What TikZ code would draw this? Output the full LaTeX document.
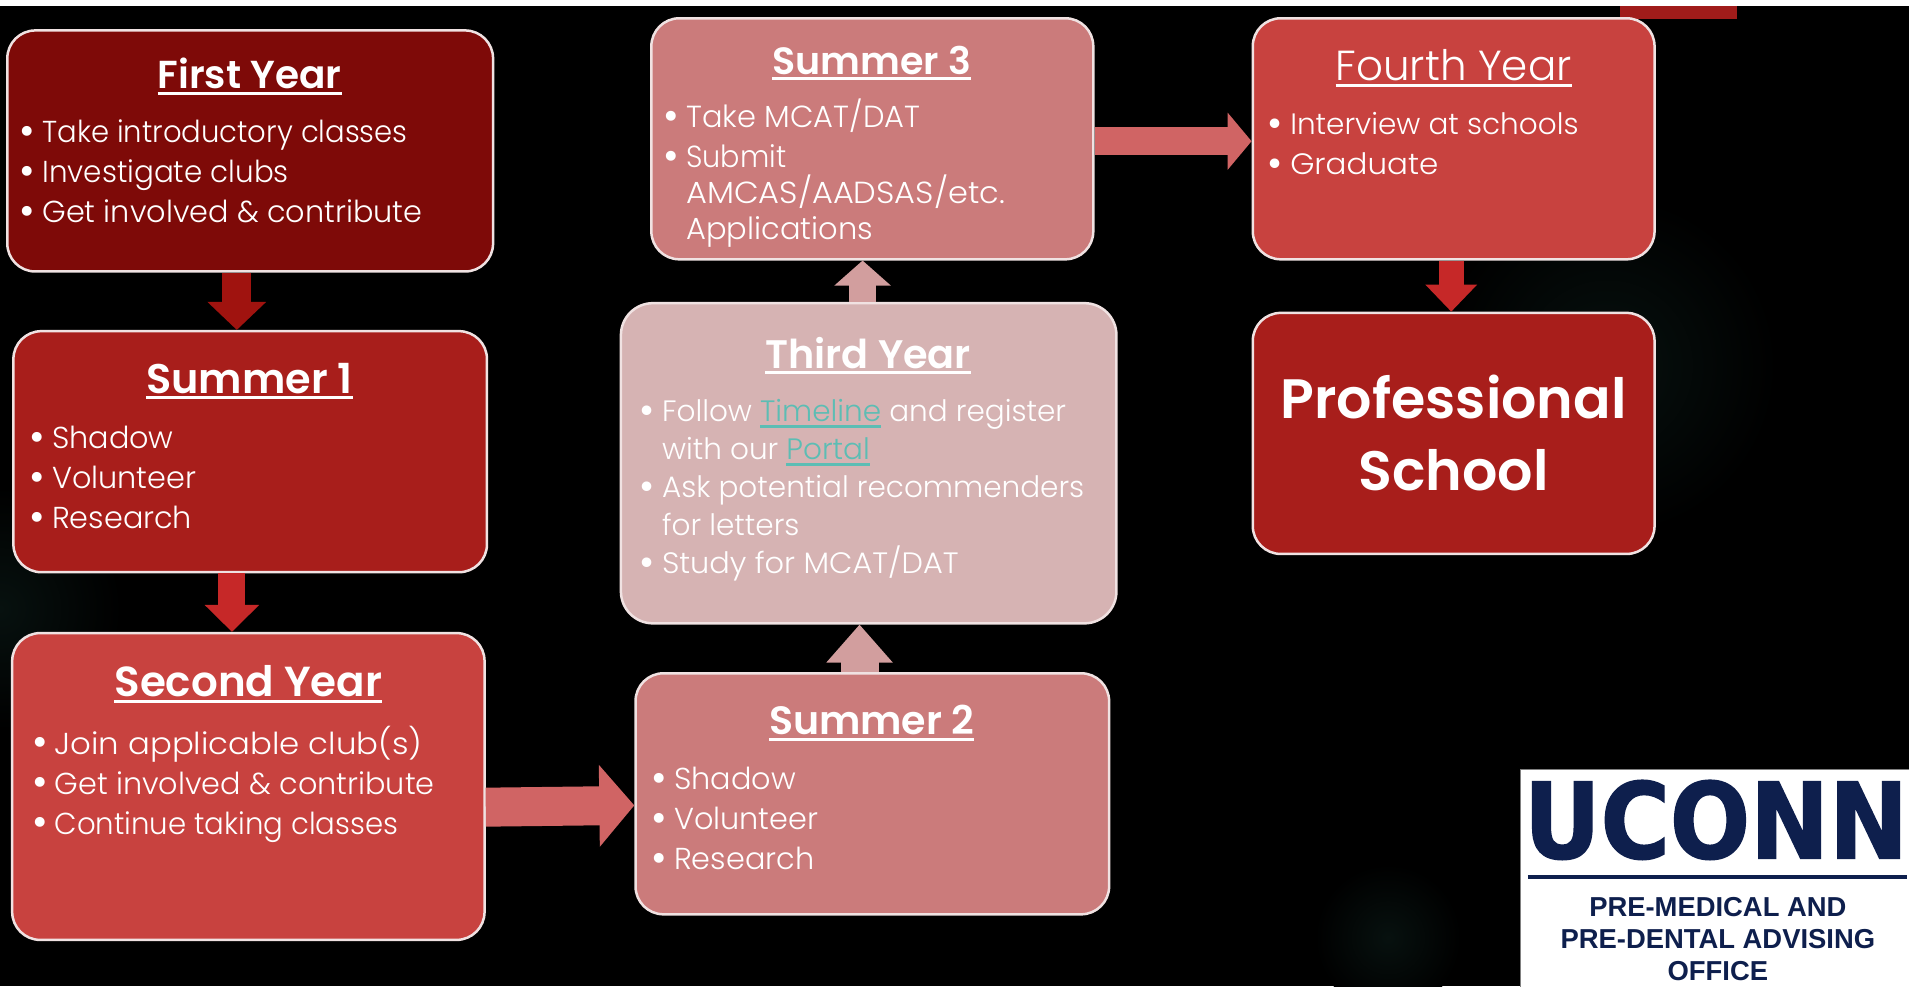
\documentclass[tikz,border=0pt]{standalone}
\usepackage{fontspec}
\usepackage{graphicx}
\usetikzlibrary{fit,calc,arrows.meta}
\setmainfont{Poppins}[UprightFont=* Light,BoldFont=* SemiBold]
\newfontfamily\logofont{Liberation Sans}
\newfontfamily\ucfont{DejaVu Sans}[BoldFeatures={FakeBold=1.5}]
\definecolor{cA}{HTML}{7E0A08}
\definecolor{cB}{HTML}{A81E1B}
\definecolor{cC}{HTML}{C8423F}
\definecolor{cD}{HTML}{CB7B7B}
\definecolor{cE}{HTML}{D6B3B3}
\definecolor{edgec}{HTML}{F0E2E2}
\definecolor{linkc}{HTML}{5CBDB4}
\definecolor{navy}{HTML}{0E1F4D}
\definecolor{glowc}{HTML}{07110F}
\definecolor{arA}{HTML}{A0130F}
\definecolor{arB}{HTML}{C62828}
\definecolor{arC}{HTML}{D06464}
\definecolor{arD}{HTML}{D29E9E}
\newcommand\ulin[2][white]{\setbox0\hbox{#2}\rlap{\color{#1}\rule[-6pt]{\wd0}{3pt}}\box0}
\newcommand\bi{\makebox[19pt][l]{\hspace*{-3.5pt}\raisebox{-2.8pt}{\scalebox{1.4}{•}}}}
\newcommand\ci{\hspace*{19pt}}
\newcommand\tsz[1]{\fontsize{#1}{44}\selectfont}
\newcommand\hs[2]{\scalebox{#1}[1]{#2}}
\tikzset{
 x=1.2175pt,y=-1.2175pt,
 panel/.style={draw=edgec,line width=2.5pt,rounded corners=28pt,inner sep=0pt,outer sep=0pt},
 head/.style={text=white,font=\fontsize{39}{44}\selectfont\bfseries,inner sep=0pt},
 body/.style={text=white,align=left,anchor=north west,inner sep=0pt,font=\fontsize{30.3}{40}\selectfont},
 flow/.style={line width=#1,shorten <=1.2pt,shorten >=1.2pt},
}
\begin{document}
\begin{tikzpicture}
\useasboundingbox (0,0) rectangle (1568,810);
\fill[black] (0,0) rectangle (1568,810);
\begin{scope}
\clip (0,5) rectangle (1568,810);
\shade[inner color=glowc,outer color=black] (1140,770) circle (60);
\shade[inner color=glowc,outer color=black] (1320,300) circle (140);
\shade[inner color=glowc,outer color=black] (0,500) circle (100);
\end{scope}
\fill[white] (0,0) rectangle (1568,5);
\fill[fill=cB!95!black] (1331,5) rectangle (1427,16);

\node[panel,fill=cA,fit={(6,25)(405,223)}] (first) {};
\node[panel,fill=cB,fit={(11,272)(400,470)}] (s1) {};
\node[panel,fill=cC,fit={(10,520)(398,772)}] (second) {};
\node[panel,fill=cD,fit={(522,553)(911,751)}] (s2) {};
\node[panel,fill=cE,rounded corners=32pt,fit={(510,249)(917,512)}] (third) {};
\node[panel,fill=cD,fit={(535,15)(898,213)}] (s3) {};
\node[panel,fill=cC,fit={(1029,15)(1359,213)}] (fourth) {};
\node[panel,fill=cB,fit={(1029,257)(1359,455)}] (prof) {};

\draw[flow=29pt,draw=arA,-{Triangle[length=28pt,width=57pt]}] ($(first.south)+(-11,0)$) -- ($(s1.north)+(-11,0)$);
\draw[flow=27pt,draw=arB,-{Triangle[length=27pt,width=53pt]}] ($(s1.south)+(-15,0)$) -- ($(second.north)+(-13.5,0)$);
\draw[flow=39pt,draw=arC,-{Triangle[length=35pt,width=80pt]}] (second.east |- 0,663) -- (s2.west |- 0,661.5);
\draw[flow=38pt,draw=arD,-{Triangle[length=38pt,width=64pt]}] ($(s2.north)+(-10.5,0)$) -- ($(third.south)+(-7.5,0)$);
\draw[flow=27pt,draw=arD,-{Triangle[length=25pt,width=55pt]}] ($(third.north)+(-5,0)$) -- ($(s3.south)+(-8,0)$);
\draw[flow=28pt,draw=arC,-{Triangle[length=24pt,width=56pt]}] (s3.east |- 0,116) -- (fourth.west |- 0,116);
\draw[flow=25pt,draw=arB,-{Triangle[length=27pt,width=50pt]}] ($(fourth.south)+(-2,0)$) -- ($(prof.north)+(-2,0)$);

\node[head] (t1) at (205,63) {\ulin{First Year}};
\node[body] (b1) at (19,98) {\bi \hs{.96}{Take introductory classes}\\\bi \hs{.97}{Investigate clubs}\\\bi Get involved \& contribute};
\node[head,font=\tsz{41.4}\bfseries] (t2) at (205,313) {\ulin{Summer 1}};
\node[body] (b2) at (27,350) {\bi Shadow\\\bi Volunteer\\\bi Research};
\node[head,font=\tsz{42}\bfseries] (t3) at (204,562) {\ulin{Second Year}};
\node[body] (b3) at (29,596) {\bi \hs{1.07}{Join applicable club(s)}\\\bi Get involved \& contribute\\\bi \hs{.963}{Continue taking classes}};
\node[head,font=\tsz{39.5}\bfseries] (t4) at (716,594) {\ulin{Summer 2}};
\node[body] (b4) at (538,630) {\bi Shadow\\\bi Volunteer\\\bi Research};
\node[head,font=\tsz{39.8}\bfseries] (t5) at (713,292) {\ulin{Third Year}};
\node[body,font=\fontsize{29.5}{38}\selectfont] (b5) at (528,328) {\bi Follow {\color{linkc}\ulin[linkc]{Timeline}} and register\\\ci with our {\color{linkc}\ulin[linkc]{Portal}}\\\bi Ask potential recommenders\\\ci for letters\\\bi \hs{1.03}{Study for MCAT/DAT}};
\node[head,font=\tsz{38}\bfseries] (t6) at (716,52) {\ulin{Summer 3}};
\node[body,font=\fontsize{30.5}{36}\selectfont] (b6) at (548,81) {\bi Take MCAT/DAT\\[4pt]\bi \hs{.94}{Submit}\\\ci \hs{1.05}{AMCAS/AADSAS/etc.}\\\ci Applications};
\node[head,font=\tsz{42}] (t7) at (1194,56) {\ulin{Fourth Year}};
\node[body,font=\fontsize{29.5}{40}\selectfont] (b7) at (1044,92) {\bi Interview at schools\\\bi \hs{1.05}{Graduate}};
\node[text=white,align=center,inner sep=0pt,font=\fontsize{55.5}{72}\selectfont\bfseries] (t8) at (1194,356) {Professional\\School};

\node[fill=white,draw=black!50,line width=1pt,inner sep=0pt,outer sep=0pt,fit={(1249,632)(1569,811)}] (logo) {};
\node[inner sep=0pt,text=navy] (uc) at (1409.5,673.5) {\resizebox{384pt}{78pt}{\ucfont\bfseries UCONN}};
\coordinate (ra) at (1255,720);
\coordinate (rb) at (1566,720);
\draw[navy,line width=4pt] (ra) -- (rb);
\node[text=navy,align=center,inner sep=0pt,font=\logofont\fontsize{27.4}{32}\selectfont\bfseries] (lt) at (1411,771) {PRE-MEDICAL AND\\PRE-DENTAL ADVISING\\OFFICE};
\end{tikzpicture}
\end{document}
